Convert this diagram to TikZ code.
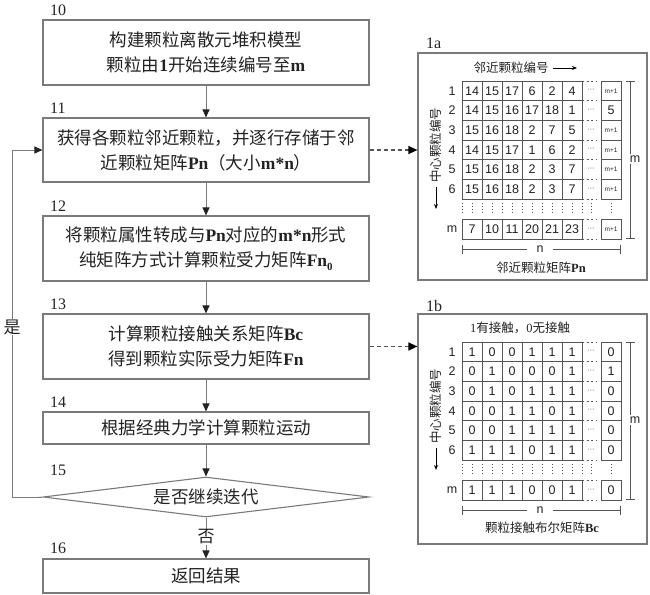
\documentclass[tikz,border=0pt]{standalone}
\usepackage{fontspec}
\setmainfont{Liberation Serif}
\newfontfamily\cjk{Noto Sans CJK SC}
\newfontfamily\asans{Liberation Sans}
\usetikzlibrary{shapes.geometric,arrows.meta}
\newcommand\B[1]{{\rmfamily\bfseries #1}}
\newcommand\mpo{{\asans\fontsize{6.5}{7}\selectfont m+1}}
\definecolor{lc}{HTML}{7a7a7a}
\definecolor{tc}{HTML}{222222}
\definecolor{gc}{HTML}{555555}
\tikzset{
  box/.style={draw=lc, line width=1.1pt, minimum width=326pt, inner sep=0pt, align=center,
    font=\cjk\fontsize{17.5}{25}\selectfont, text=tc},
  num/.style={font=\rmfamily\fontsize{16}{16}\selectfont, anchor=west, text=tc, inner sep=0pt},
  flow/.style={draw=lc, line width=1pt, -{Triangle[length=8pt,width=7pt,color=tc]}},
  dflow/.style={draw=gc, line width=1.3pt, dash pattern=on 4pt off 3pt, -{Triangle[length=9pt,width=8pt,color=black]}},
  frame/.style={draw=lc, line width=1.2pt, inner sep=0pt, minimum width=229pt},
  gridl/.style={draw=gc, line width=0.9pt},
  dashl/.style={draw=gc, line width=0.8pt, dash pattern=on 2pt off 2.5pt},
  dotl/.style={draw=gc, line width=0.7pt, dash pattern=on 1pt off 2pt},
  cell/.style={font=\asans\fontsize{12.5}{13}\selectfont, text=tc, inner sep=0pt},
  rlab/.style={font=\asans\fontsize{12.5}{13}\selectfont, text=tc, inner sep=0pt},
  capt/.style={font=\cjk\fontsize{12.5}{14}\selectfont, text=tc, inner sep=0pt},
  brk/.style={draw=gc, line width=1pt, {Bar[width=9pt]}-{Bar[width=9pt]}},
  small/.style={draw=black, line width=1pt, -{Stealth[length=5pt,width=4pt]}},
  wlab/.style={fill=white, font=\cjk\fontsize{17}{18}\selectfont, text=tc, inner sep=1pt}
}
\begin{document}
\begin{tikzpicture}[x=1pt,y=-1pt]
\useasboundingbox (0,0) rectangle (650,594);

% ---------------- flowchart ----------------
\node[box, minimum height=65pt] (b10) at (206,52.5) {构建颗粒离散元堆积模型\\颗粒由\B{1}开始连续编号至\B{m}};
\node[box, minimum height=64pt] (b11) at (206,150) {获得各颗粒邻近颗粒，并逐行存储于邻\\近颗粒矩阵\B{Pn}（大小\B{m*n}）};
\node[box, minimum height=65pt] (b12) at (206,248.5) {将颗粒属性转成与\B{Pn}对应的\B{m*n}形式\\纯矩阵方式计算颗粒受力矩阵\B{Fn}\raisebox{-0.35ex}{\B{\fontsize{11}{11}\selectfont 0}}};
\node[box, minimum height=65pt] (b13) at (206,346.5) {计算颗粒接触关系矩阵\B{Bc}\\得到颗粒实际受力矩阵\B{Fn}};
\node[box, minimum height=32pt] (b14) at (206,428) {根据经典力学计算颗粒运动};
\node[diamond, draw=lc, line width=1.1pt, aspect=8, minimum width=326pt, minimum height=40pt, inner sep=0pt] (d15) at (206,497) {};
\node[font=\cjk\fontsize{17.5}{20}\selectfont, text=tc] (t15) at (206,497) {是否继续迭代};
\node[box, minimum height=34pt] (b16) at (206,576) {返回结果};

\node[num] (n10) at (50,10) {10};
\node[num] (n11) at (50,108) {11};
\node[num] (n12) at (50,206) {12};
\node[num] (n13) at (50,304) {13};
\node[num] (n14) at (50,402) {14};
\node[num] (n15) at (50,470) {15};
\node[num] (n16) at (50,548) {16};

\draw[flow] (b10.south) -- (b11.north);
\draw[flow] (b11.south) -- (b12.north);
\draw[flow] (b12.south) -- (b13.north);
\draw[flow] (b13.south) -- (b14.north);
\draw[flow] (b14.south) -- (d15.north);
\draw[flow] (d15.south) -- (b16.north);
\coordinate (lp) at (12,150);
\draw[flow] (d15.west) -| (lp) -- (b11.west);
\node[wlab] (yes) at (12,327) {是};
\node[wlab] (no) at (206,537) {否};

% ---------------- frames ----------------
\node[frame, minimum height=227pt] (fa) at (532.5,166.5) {};
\node[frame, minimum height=230pt] (fb) at (532.5,429) {};
\node[num] (la) at (426,43) {1a};
\node[num] (lb) at (426,306) {1b};
\draw[dflow] (b11.east) -- (b11.east -| fa.west);
\draw[dflow] (b13.east) -- (b13.east -| fb.west);

% ---------------- panel 1a ----------------
\begin{scope}[shift={(0,81)}]
  \draw[gridl] (462,0) rectangle (582,118);
  \foreach \i in {1,...,5} \draw[gridl] ({462+20*\i},0) -- ({462+20*\i},118);
  \foreach \j in {1,...,5} \draw[gridl] (462,{19.67*\j}) -- (582,{19.67*\j});
  \draw[gridl] (601,0) rectangle (621,118);
  \foreach \j in {1,...,5} \draw[gridl] (601,{19.67*\j}) -- (621,{19.67*\j});
  \foreach \j in {0,...,6} \draw[dashl] (582,{19.67*\j}) -- (596,{19.67*\j});
  \draw[gridl] (462,138) rectangle (582,158);
  \foreach \i in {1,...,5} \draw[gridl] ({462+20*\i},138) -- ({462+20*\i},158);
  \draw[gridl] (601,138) rectangle (621,158);
  \draw[dashl] (582,138) -- (596,138);
  \draw[dashl] (582,158) -- (596,158);
  \foreach \x in {462,472,...,582,591,611} \draw[dotl] (\x,122) -- (\x,134);
  \foreach \r/\vals/\last [count=\k] in {1/{14,15,17,6,2,4}/\mpo, 2/{14,15,16,17,18,1}/5, 3/{15,16,18,2,7,5}/\mpo, 4/{14,15,17,1,6,2}/\mpo, 5/{15,16,18,2,3,7}/\mpo, 6/{15,16,18,2,3,7}/\mpo}{
    \node[rlab] (ar\k) at (452,{19.67*\k-9.83}) {\r};
    \foreach \v [count=\i] in \vals { \node[cell] (a\k-\i) at ({452+20*\i},{19.67*\k-9.83}) {\v}; }
    \node[cell] (al\k) at (611,{19.67*\k-9.83}) {\last};
    \node[cell, font=\asans\fontsize{7}{7}\selectfont] (ad\k) at (591,{19.67*\k-9.83}) {···};
  }
  \node[rlab] (arm) at (452,148) {m};
  \foreach \v [count=\i] in {7,10,11,20,21,23} { \node[cell] (am-\i) at ({452+20*\i},148) {\v}; }
  \node[cell] (alm) at (611,148) {\mpo};
  \node[cell, font=\asans\fontsize{7}{7}\selectfont] (adm) at (591,148) {···};
  \node[capt] (ha) at (511,-13) {邻近颗粒编号};
  \coordinate (ha1) at (553,-13); \coordinate (ha2) at (577,-13);
  \draw[small] (ha1) -- (ha2);
  \node[capt, rotate=90] (va) at (436,64) {中心颗粒编号};
  \coordinate (va1) at (436,106); \coordinate (va2) at (436,128);
  \draw[small] (va1) -- (va2);
  \coordinate (ma1) at (630,0); \coordinate (ma2) at (630,158);
  \draw[brk] (ma1) -- (ma2);
  \node[rlab, fill=white, inner sep=1.5pt] (mla) at (635,78) {m};
  \coordinate (na1) at (462,168); \coordinate (na2) at (621,168);
  \draw[brk] (na1) -- (na2);
  \node[rlab, fill=white, inner xsep=10pt, inner ysep=1pt] (nla) at (540,168) {n};
  \node[capt] (ca) at (541,187) {邻近颗粒矩阵\B{Pn}};
\end{scope}

% ---------------- panel 1b ----------------
\begin{scope}[shift={(0,342)}]
  \draw[gridl] (462,0) rectangle (582,118);
  \foreach \i in {1,...,5} \draw[gridl] ({462+20*\i},0) -- ({462+20*\i},118);
  \foreach \j in {1,...,5} \draw[gridl] (462,{19.67*\j}) -- (582,{19.67*\j});
  \draw[gridl] (601,0) rectangle (621,118);
  \foreach \j in {1,...,5} \draw[gridl] (601,{19.67*\j}) -- (621,{19.67*\j});
  \foreach \j in {0,...,6} \draw[dashl] (582,{19.67*\j}) -- (596,{19.67*\j});
  \draw[gridl] (462,138) rectangle (582,158);
  \foreach \i in {1,...,5} \draw[gridl] ({462+20*\i},138) -- ({462+20*\i},158);
  \draw[gridl] (601,138) rectangle (621,158);
  \draw[dashl] (582,138) -- (596,138);
  \draw[dashl] (582,158) -- (596,158);
  \foreach \x in {462,472,...,582,591,611} \draw[dotl] (\x,122) -- (\x,134);
  \foreach \r/\vals/\last [count=\k] in {1/{1,0,0,1,1,1}/0, 2/{0,1,0,0,0,1}/1, 3/{0,1,0,1,1,1}/0, 4/{0,0,1,1,0,1}/0, 5/{0,0,1,1,1,1}/0, 6/{1,1,1,0,1,1}/0}{
    \node[rlab] (br\k) at (452,{19.67*\k-9.83}) {\r};
    \foreach \v [count=\i] in \vals { \node[cell] (b\k-\i) at ({452+20*\i},{19.67*\k-9.83}) {\v}; }
    \node[cell] (bl\k) at (611,{19.67*\k-9.83}) {\last};
    \node[cell, font=\asans\fontsize{7}{7}\selectfont] (bd\k) at (591,{19.67*\k-9.83}) {···};
  }
  \node[rlab] (brm) at (452,148) {m};
  \foreach \v [count=\i] in {1,1,1,0,0,1} { \node[cell] (bm-\i) at ({452+20*\i},148) {\v}; }
  \node[cell] (blm) at (611,148) {0};
  \node[cell, font=\asans\fontsize{7}{7}\selectfont] (bdm) at (591,148) {···};
  \node[capt] (hb) at (520,-14) {\B{\mdseries 1}有接触，\B{\mdseries 0}无接触};
  \node[capt, rotate=90] (vb) at (436,64) {中心颗粒编号};
  \coordinate (vb1) at (436,106); \coordinate (vb2) at (436,128);
  \draw[small] (vb1) -- (vb2);
  \coordinate (mb1) at (630,0); \coordinate (mb2) at (630,158);
  \draw[brk] (mb1) -- (mb2);
  \node[rlab, fill=white, inner sep=1.5pt] (mlb) at (635,78) {m};
  \coordinate (nb1) at (462,168); \coordinate (nb2) at (621,168);
  \draw[brk] (nb1) -- (nb2);
  \node[rlab, fill=white, inner xsep=10pt, inner ysep=1pt] (nlb) at (540,168) {n};
  \node[capt] (cb) at (542,186) {颗粒接触布尔矩阵\B{Bc}};
\end{scope}
\end{tikzpicture}
\end{document}
